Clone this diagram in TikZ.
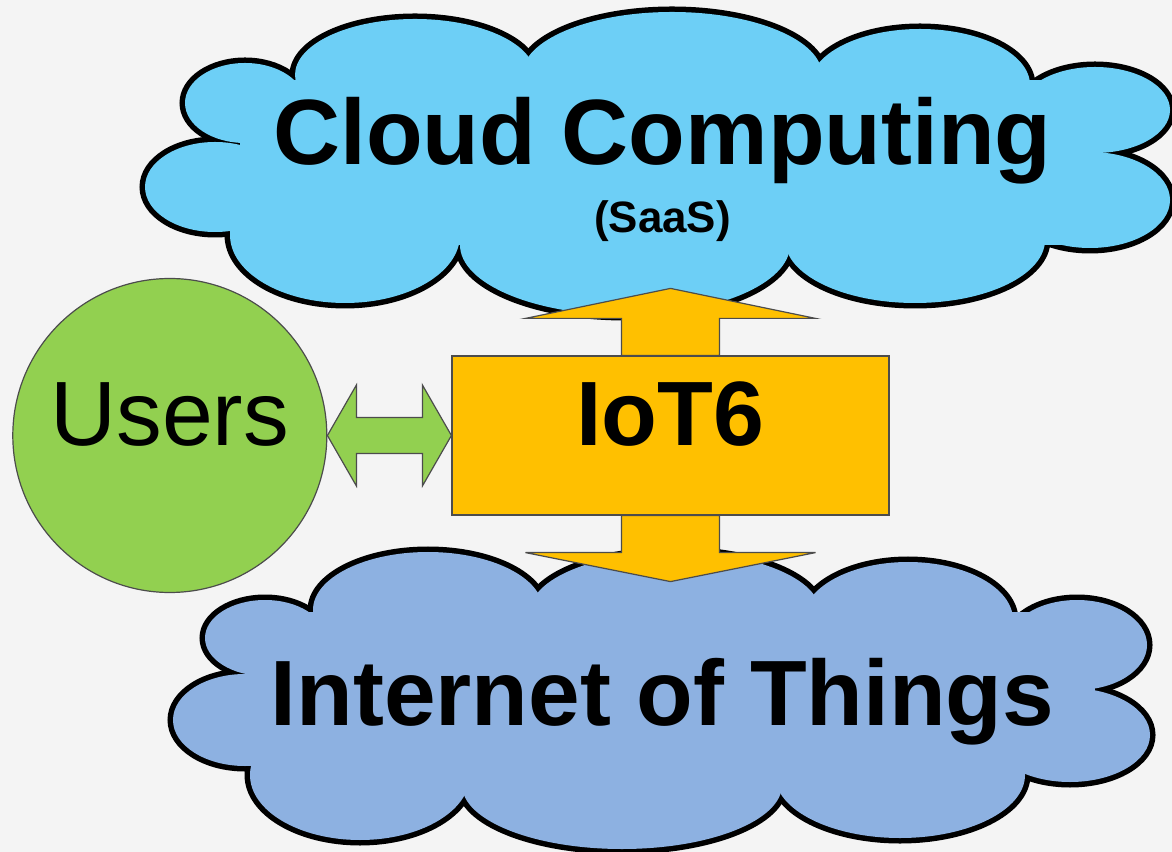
\documentclass[tikz,border=0pt]{standalone}
\usepackage{fontspec}
\setmainfont{Liberation Sans}
\usetikzlibrary{positioning,calc}
\definecolor{cloudsky}{HTML}{6DCFF6}
\definecolor{thingsblue}{HTML}{8DB1E1}
\definecolor{iotorange}{HTML}{FFC000}
\definecolor{usersgreen}{HTML}{92D050}
\definecolor{slidegray}{HTML}{F4F4F4}

% lobes of the two clouds: centre x / centre y / x radius / y radius
\def\skylobes{245/103/60/40, 215/187/70/45, 415/75/120/56, 672/75/150/63, 920/85/110/56,
    1095/110/75/43, 1090/200/80/48, 915/240/130/63, 625/245/165/70, 345/235/115/68}
\def\thinglobes{265/638/60/38, 245/720/72/46, 428/610/115/58, 675/612/145/60, 908/620/105/58,
    1077/645/70/45, 1070/735/80/47, 900/775/125/63, 622/785/160/64, 360/775/110/65}

\begin{document}
\begin{tikzpicture}[x=0.1mm, y=-0.1mm, every node/.style={inner sep=0pt},
    puffline/.style={draw=black, line width=1.1mm},
    thinline/.style={draw=black!70, line width=0.12mm, line join=miter},
    headline/.style={font=\fontsize{26.4}{31}\selectfont\bfseries},
    iotbox/.style={rectangle, thinline, fill=iotorange, minimum width=43.7mm, minimum height=15.9mm,
        font=\fontsize{26}{31}\selectfont\bfseries, text height=0.72em, text depth=0.13em},
    usersdisc/.style={circle, thinline, fill=usersgreen, minimum size=31.4mm,
        font=\fontsize{26}{31}\selectfont, text height=0.72em, text depth=0.13em}]

    \fill[slidegray] (0,0) rectangle (1172,852);
    \useasboundingbox (0,0) rectangle (1172,852);

    % cloud computing
    \foreach \cx/\cy/\rx/\ry in \skylobes
        \draw[puffline] (\cx,\cy) ellipse [x radius=\rx, y radius=\ry];
    \foreach \cx/\cy/\rx/\ry in \skylobes
        \fill[cloudsky] (\cx,\cy) ellipse [x radius=\rx, y radius=\ry];
    \fill[cloudsky] (240,80) rectangle (1100,245);

    % internet of things
    \foreach \cx/\cy/\rx/\ry in \thinglobes
        \draw[puffline] (\cx,\cy) ellipse [x radius=\rx, y radius=\ry];
    \foreach \cx/\cy/\rx/\ry in \thinglobes
        \fill[thingsblue] (\cx,\cy) ellipse [x radius=\rx, y radius=\ry];
    \fill[thingsblue] (262,612) rectangle (1095,770);

    \node[headline, anchor=base] (cc) at (662.5,165) {Cloud Computing};
    \node[font=\fontsize{12.5}{15}\selectfont\bfseries, anchor=base] (saas) at (662.5,233) {(SaaS)};
    \node[headline, anchor=base] (iotg) at (662.5,725) {Internet of Things};

    \node[iotbox] (iot) at (670.5,435.5) {IoT6};
    \node[usersdisc, left=12.4mm of iot] (users) {Users};

    \coordinate (uptip) at ($(iot.north)+(0,-67)$);
    \coordinate (downtip) at ($(iot.south)+(0,66)$);

    \draw[thinline, fill=iotorange] (uptip) -- ++(145,30) -- ++(-96,0) -- ($(iot.north)+(49,0)$)
        -- ($(iot.north)+(-49,0)$) -- ($(uptip)+(-49,30)$) -- ++(-96,0) -- cycle;
    \draw[thinline, fill=iotorange] (downtip) -- ++(145,-29) -- ++(-96,0) -- ($(iot.south)+(49,0)$)
        -- ($(iot.south)+(-49,0)$) -- ($(downtip)+(-49,-29)$) -- ++(-96,0) -- cycle;

    \draw[thinline, fill=usersgreen] (users.east) -- ++(29,-50.5) -- ++(0,32.5) -- ($(iot.west)+(-29,-18)$)
        -- ++(0,-32.5) -- (iot.west) -- ++(-29,50.5) -- ++(0,-32.5) -- ($(users.east)+(29,18)$)
        -- ++(0,32.5) -- cycle;
\end{tikzpicture}
\end{document}
